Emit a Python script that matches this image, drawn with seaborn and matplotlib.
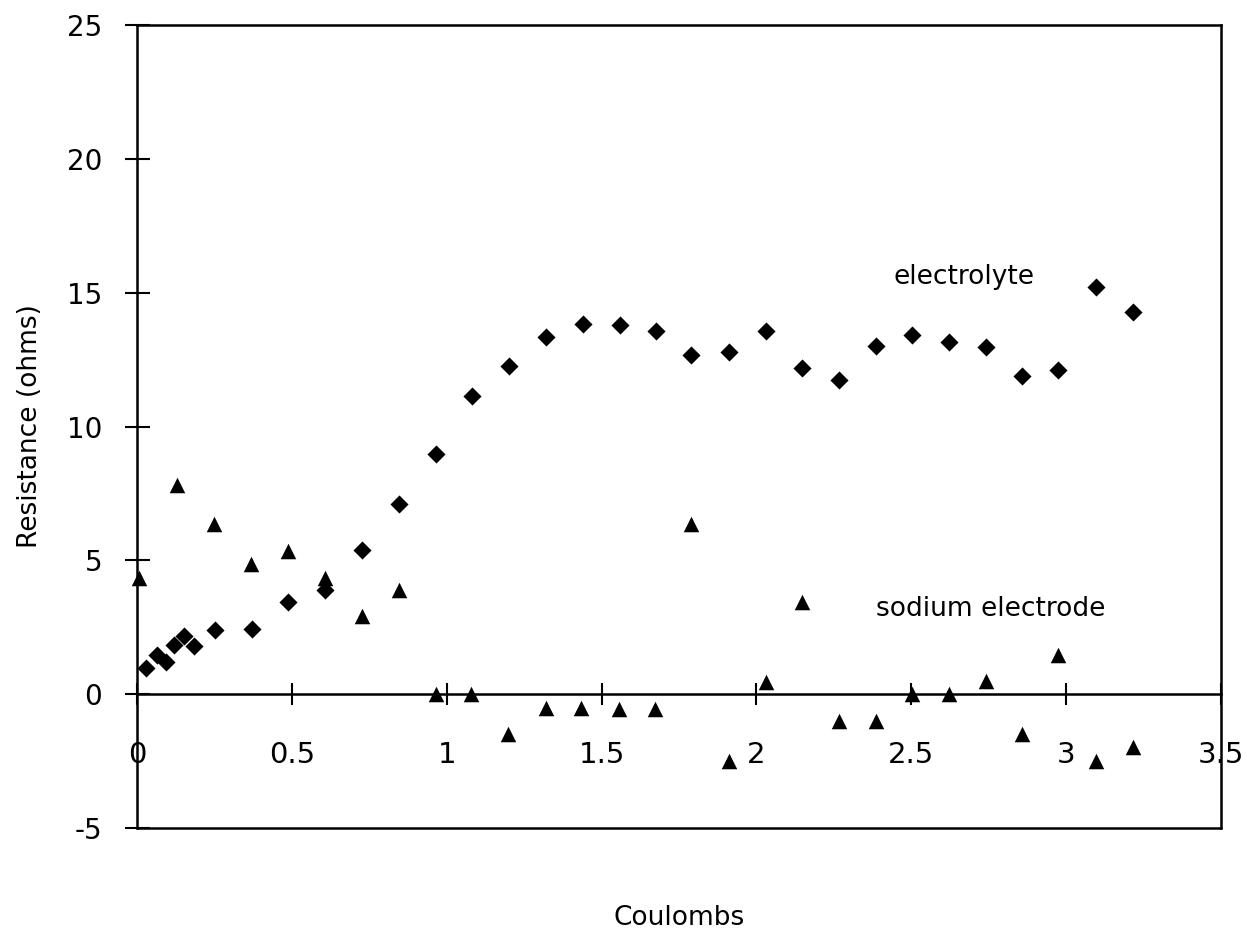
import matplotlib
matplotlib.use("Agg")
import matplotlib.pyplot as plt
import seaborn as sns

# --- data ---
# electrolyte resistance (diamonds)
elec_coulombs = [0.029, 0.064, 0.093, 0.120, 0.152, 0.184, 0.252, 0.371,
                 0.487, 0.606, 0.725, 0.846, 0.964, 1.081, 1.200, 1.322,
                 1.439, 1.558, 1.674, 1.790, 1.910, 2.032, 2.148, 2.265,
                 2.387, 2.503, 2.623, 2.742, 2.858, 2.974, 3.097, 3.216]
elec_ohms = [0.97, 1.46, 1.20, 1.83, 2.17, 1.79, 2.39, 2.43,
             3.44, 3.89, 5.38, 7.10, 8.97, 11.14, 12.26, 13.35,
             13.83, 13.80, 13.57, 12.67, 12.78, 13.57, 12.19, 11.74,
             13.01, 13.42, 13.16, 12.97, 11.89, 12.11, 15.21, 14.28]

# sodium electrode resistance (triangles)
na_coulombs = [0.007, 0.128, 0.248, 0.368, 0.487, 0.606, 0.725, 0.846,
               0.964, 1.077, 1.197, 1.320, 1.435, 1.555, 1.671, 1.790,
               1.910, 2.030, 2.148, 2.265, 2.387, 2.503, 2.623, 2.742,
               2.858, 2.974, 3.097, 3.216]
na_ohms = [4.34, 7.80, 6.36, 4.86, 5.35, 4.34, 2.92, 3.89,
           0.0, 0.0, -1.5, -0.52, -0.52, -0.56, -0.56, 6.36,
           -2.5, 0.45, 3.44, -1.0, -1.0, 0.0, 0.0, 0.49,
           -1.5, 1.46, -2.5, -1.98]

x_ticks = [0, 0.5, 1, 1.5, 2, 2.5, 3, 3.5]
x_tick_labels = ["0", "0.5", "1", "1.5", "2", "2.5", "3", "3.5"]
y_ticks = [-5, 0, 5, 10, 15, 20, 25]

sns.set_style("white")
plt.rcParams["font.family"] = ["DejaVu Sans"]
plt.rcParams["axes.unicode_minus"] = False
plt.rcParams["text.color"] = "black"
plt.rcParams["axes.labelcolor"] = "black"

fig = plt.figure(figsize=(12.47, 9.34), dpi=100)
ax = fig.add_axes([0.1099, 0.1135, 0.8693, 0.8597])

sns.scatterplot(x=elec_coulombs, y=elec_ohms, marker="D", s=85,
                color="black", linewidth=0, clip_on=False, ax=ax)
sns.scatterplot(x=na_coulombs, y=na_ohms, marker="^", s=125,
                color="black", linewidth=0, clip_on=False, ax=ax)

ax.set_xlim(0, 3.5)
ax.set_ylim(-5, 25)

# x axis sits on the zero line, frame closes at -5
for sp in ax.spines.values():
    sp.set_color("black")
    sp.set_linewidth(1.8)
ax.spines["bottom"].set_position(("data", 0))
ax.axhline(-5, color="black", lw=1.8, clip_on=False)

ax.set_xticks(x_ticks)
ax.set_xticklabels(x_tick_labels)
ax.set_yticks(y_ticks)
ax.tick_params(axis="x", direction="inout", length=16, width=1.5,
               pad=26, labelsize=21, bottom=True, colors="black")
ax.tick_params(axis="y", direction="inout", length=18, width=1.5,
               pad=16, labelsize=20, left=True, colors="black")

ax.set_xlabel("Coulombs", fontsize=19)
ax.xaxis.set_label_coords(0.5, -0.096)
ax.set_ylabel("Resistance (ohms)", fontsize=19)
ax.yaxis.set_label_coords(-0.087, 0.5)

ax.text(2.67, 15.6, "electrolyte", ha="center", va="center", fontsize=19)
ax.text(2.755, 3.2, "sodium electrode", ha="center", va="center", fontsize=19)

fig.savefig("out.png", dpi=100)
